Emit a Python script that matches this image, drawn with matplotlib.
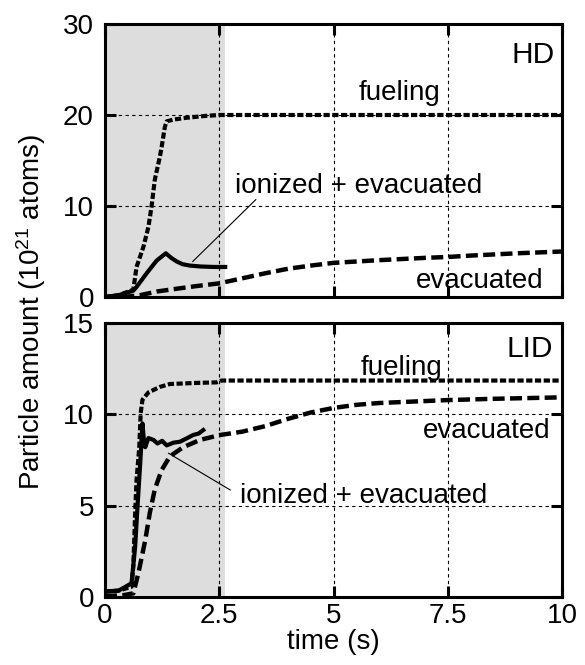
import matplotlib
matplotlib.use("Agg")
import matplotlib.pyplot as plt

plt.rcParams['font.family'] = ['Liberation Sans', 'DejaVu Sans']
plt.rcParams['mathtext.fontset'] = 'custom'
plt.rcParams['mathtext.rm'] = 'Liberation Sans'
plt.rcParams['mathtext.it'] = 'Liberation Sans:italic'

# ---- data ----
x_ticks = [0, 2.5, 5, 7.5, 10]
x_tick_labels = ["0", "2.5", "5", "7.5", "10"]
hd_yticks = [0, 10, 20, 30]
lid_yticks = [0, 5, 10, 15]
shade_end = 2.63

hd_fuel_t = [0, 0.3, 0.62, 0.69, 0.84, 0.95, 1.02, 1.09, 1.2, 1.24, 1.31, 1.35, 1.5, 1.79, 2.2, 2.5, 4, 6, 8, 10]
hd_fuel_v = [0, 0.2, 0.8, 3.3, 5.5, 7.7, 10, 12.9, 15.4, 16.5, 18.7, 19.3, 19.5, 19.7, 19.9, 20, 20, 20, 20, 20]

hd_ion_t = [0, 0.3, 0.62, 0.69, 0.91, 1.13, 1.33, 1.45, 1.57, 1.7, 1.86, 2.1, 2.4, 2.63]
hd_ion_v = [0, 0.2, 0.7, 1.1, 2.6, 4.0, 4.8, 4.3, 3.9, 3.6, 3.45, 3.35, 3.3, 3.3]

hd_evac_t = [0, 0.5, 0.77, 1.13, 1.7, 2.0, 2.5, 3.0, 3.5, 4.0, 4.5, 5.0, 6.0, 7.0, 7.5, 8.0, 9.0, 10.0]
hd_evac_v = [0, 0.05, 0.2, 0.6, 1.0, 1.2, 1.5, 2.05, 2.6, 3.1, 3.45, 3.75, 4.05, 4.3, 4.4, 4.55, 4.8, 5.0]

lid_fuel_t = [0, 0.3, 0.58, 0.62, 0.66, 0.69, 0.75, 0.78, 0.82, 0.95, 1.2, 1.42, 2.0, 2.44, 2.55, 3, 5, 7.5, 10]
lid_fuel_v = [0.3, 0.35, 0.56, 1.7, 4.6, 6.4, 8.2, 10.05, 10.8, 11.2, 11.5, 11.66, 11.72, 11.75, 11.85, 11.85, 11.85, 11.85, 11.85]

lid_ion_t = [0, 0.3, 0.58, 0.66, 0.71, 0.77, 0.82, 0.85, 0.88, 0.95, 1.06, 1.15, 1.25, 1.35, 1.5, 1.64, 1.8, 1.93, 2.05, 2.15]
lid_ion_v = [0.3, 0.35, 0.75, 2.75, 4.9, 7.3, 9.5, 8.6, 8.2, 8.7, 8.6, 8.4, 8.55, 8.3, 8.45, 8.5, 8.7, 8.87, 8.95, 9.14]

lid_evac_t = [0, 0.4, 0.62, 0.73, 0.88, 0.98, 1.09, 1.24, 1.42, 1.71, 2.08, 2.52, 3.0, 3.5, 4.0, 4.5, 5.0, 5.5, 6.0, 7.5, 8.5, 10.0]
lid_evac_v = [0.05, 0.1, 0.2, 1.3, 3.1, 4.6, 5.9, 6.95, 7.7, 8.2, 8.6, 8.87, 9.05, 9.35, 9.75, 10.1, 10.35, 10.52, 10.62, 10.78, 10.85, 10.93]

# ---- figure ----
fig = plt.figure(figsize=(5.85, 6.65), dpi=100)
W, H = 585.0, 665.0
ax1 = fig.add_axes([105 / W, 1 - 297 / H, 457 / W, 273 / H])
ax2 = fig.add_axes([105 / W, 1 - 597 / H, 457 / W, 274 / H])

FS = 20
fuel_style = dict(color='black', lw=3.0, linestyle=(0, (1.5, 0.6)), dash_capstyle='butt')
evac_style = dict(color='black', lw=3.2, linestyle=(0, (2.7, 1.2)), dash_capstyle='butt')
ion_style = dict(color='black', lw=3.0, linestyle='-')


def style_axes(ax, ymax, yticks):
    ax.set_xlim(0, 10)
    ax.set_ylim(0, ymax)
    ax.axvspan(0, shade_end, color='#dcdddc', lw=0, zorder=0)
    ax.set_xticks(x_ticks)
    ax.set_yticks(yticks)
    ax.set_yticklabels([str(v) for v in yticks])
    ax.grid(True, color='black', lw=0.8, linestyle=(0, (3, 3)), zorder=1)
    ax.set_axisbelow(False)
    for s in ax.spines.values():
        s.set_linewidth(2.2)
        s.set_zorder(5)
    ax.tick_params(direction='in', length=8, width=2.2, top=True, right=True,
                   labelsize=FS, pad=8)
    ax.tick_params(axis='x', pad=4)


style_axes(ax1, 30, hd_yticks)
style_axes(ax2, 15, lid_yticks)
ax1.set_xticklabels([])
ax2.set_xticklabels(x_tick_labels)

# top panel HD
ax1.plot(hd_evac_t, hd_evac_v, zorder=3, **evac_style)
ax1.plot(hd_fuel_t, hd_fuel_v, zorder=3, **fuel_style)
ax1.plot(hd_ion_t, hd_ion_v, zorder=4, **ion_style)
ax1.text(9.85, 25.7, "HD", ha='right', va='baseline', fontsize=21.5)
ax1.text(6.45, 21.6, "fueling", ha='center', va='baseline', fontsize=FS)
ax1.text(5.55, 11.4, "ionized + evacuated", ha='center', va='baseline', fontsize=FS)
ax1.text(9.6, 1.0, "evacuated", ha='right', va='baseline', fontsize=FS)
ax1.plot([3.3, 1.92], [10.7, 3.9], color='black', lw=0.8, zorder=4)

# bottom panel LID
ax2.plot(lid_evac_t, lid_evac_v, zorder=3, **evac_style)
ax2.plot(lid_fuel_t, lid_fuel_v, zorder=3, **fuel_style)
ax2.plot(lid_ion_t, lid_ion_v, zorder=4, **ion_style)
ax2.text(9.8, 13.15, "LID", ha='right', va='baseline', fontsize=21.5)
ax2.text(6.48, 12.15, "fueling", ha='center', va='baseline', fontsize=FS)
ax2.text(9.74, 8.69, "evacuated", ha='right', va='baseline', fontsize=FS)
ax2.text(5.65, 5.13, "ionized + evacuated", ha='center', va='baseline', fontsize=FS)
ax2.plot([2.74, 1.39], [5.86, 7.87], color='black', lw=0.8, zorder=4)

ax2.set_xlabel("time (s)", fontsize=FS, labelpad=0)

fig.text(31 / W, 1 - 312 / H, r"Particle amount (10$^{21}$ atoms)", rotation=90,
         ha='center', va='center', fontsize=FS)

fig.savefig("out.png", dpi=100)
